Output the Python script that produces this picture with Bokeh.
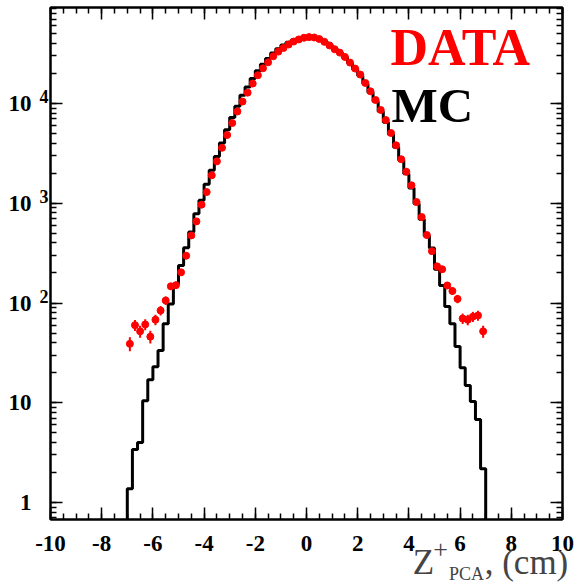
import numpy as np
from bokeh.plotting import figure
from bokeh.models import (Range1d, LinearAxis, LogAxis, SingleIntervalTicker,
                          LogTicker, FixedTicker, Label, CustomJSTickFormatter)
from bokeh.embed import file_html
from bokeh.resources import INLINE

# ---------------- data ----------------
bin_lo, bin_hi, n_bins = -7.0, 7.0, 70

data_counts = [
    39, 60, 52, 61, 46, 68, 84, 106, 147, 151,
    203, 298, 476, 658, 968, 1295, 1905, 2630, 3600, 4830,
    6370, 8320, 10450, 12850, 15840, 19190, 22540, 25880, 29720, 33130,
    36050, 38980, 41800, 43900, 45600,
    46300, 45900, 44300, 41500, 38200, 34990, 32370, 29290, 25700, 22390,
    19500, 16060, 13250, 10830, 8610, 6820, 5060, 3810, 2760, 2070,
    1513, 1028, 728, 480, 331, 233, 218, 150, 132, 110,
    70, 68, 73, 75, 52,
]

mc_counts = [
    1.37, 3.4, 4.0, 10.5, 17, 23, 33.5, 62, 98, 155,
    238, 359, 514, 787, 1071, 1549, 2140, 2950, 4020, 5470,
    7220, 9380, 12080, 14650, 17780, 21300, 24800, 28300, 32000, 35300,
    38500, 41000, 43200, 44900, 46000,
    46400, 46000, 44500, 42000, 38800, 35300, 32200, 29000, 25500, 22000,
    19000, 15800, 12900, 10500, 8300, 6500, 4900, 3650, 2700, 1980,
    1420, 990, 690, 470, 355, 218, 150, 92, 62, 36.7,
    22.4, 14.9, 10.3, 6.8, 2.18,
]

x_major_ticks = [-10, -8, -6, -4, -2, 0, 2, 4, 6, 8, 10]
y_major_ticks = [1, 10, 100, 1000, 10000]
y_tick_base = ["1", "10", "10", "10", "10"]
y_tick_exp = ["", "", "2", "3", "4"]

X0, X1 = -10, 10
Y0, Y1 = 0.6756, 91700

FW = 512                   # frame width in px
EXP_RAISE = 10 ** 0.07     # exponent labels sit ~7px above their tick

edges = np.linspace(bin_lo, bin_hi, n_bins + 1)
centers = 0.5 * (edges[:-1] + edges[1:])
data = np.array(data_counts, dtype=float)
err = np.sqrt(data)

# MC histogram outline
hx, hy = [edges[0]], [Y0]
for i, v in enumerate(mc_counts):
    hx += [edges[i], edges[i + 1]]
    hy += [v, v]
hx.append(edges[-1]); hy.append(Y0)

SERIF = "Liberation Serif"

p = figure(width=577, height=586, x_range=Range1d(X0, X1), y_range=Range1d(Y0, Y1),
           y_axis_type="log", output_backend="svg", toolbar_location=None,
           min_border_left=50, min_border_right=15, min_border_top=7, min_border_bottom=67)
p.grid.visible = False
p.outline_line_color = "black"
p.outline_line_width = 2
p.background_fill_color = "white"
p.border_fill_color = "white"

p.line(hx, hy, line_width=3, line_color="black")
p.segment(centers, data - err, centers, data + err, line_width=2, line_color="red")
p.scatter(centers, data, size=7, fill_color="red", line_color="red")


def style(ax, size="23px"):
    ax.axis_line_width = 2
    ax.axis_line_color = "black"
    ax.major_tick_in = 12
    ax.major_tick_out = 0
    ax.minor_tick_in = 6
    ax.minor_tick_out = 0
    ax.major_tick_line_width = 1.5
    ax.minor_tick_line_width = 1.5
    ax.major_tick_line_color = "black"
    ax.minor_tick_line_color = "black"
    ax.major_label_text_font = SERIF
    ax.major_label_text_font_style = "bold"
    ax.major_label_text_font_size = size
    ax.major_label_text_color = "black"


def bare(ax):
    ax.axis_line_color = None
    ax.major_tick_line_color = None
    ax.minor_tick_line_color = None
    ax.major_tick_out = 0
    ax.minor_tick_out = 0
    ax.major_tick_in = 0
    ax.minor_tick_in = 0


def no_labels(ax):
    ax.formatter = CustomJSTickFormatter(code="return ''")
    ax.major_label_standoff = 0


def px_to_x(px):
    return X0 + px / FW * (X1 - X0)


# bottom axis with numbers
xb = p.xaxis[0]
xb.ticker = SingleIntervalTicker(interval=2, num_minor_ticks=4)
style(xb)
xb.major_label_standoff = 16
xb.major_label_overrides = {t: str(t) for t in x_major_ticks}

# left: tick marks on the frame (no labels)
ytk = p.yaxis[0]
ytk.ticker = LogTicker(num_minor_ticks=10)
style(ytk)
no_labels(ytk)

# left: exponents, slightly raised
exp_ticks = [t * EXP_RAISE for t, e in zip(y_major_ticks, y_tick_exp) if e]
exp_text = [e for e in y_tick_exp if e]
yexp = LogAxis(ticker=FixedTicker(ticks=exp_ticks, minor_ticks=[]))
style(yexp, "18px")
bare(yexp)
yexp.major_label_standoff = 2
yexp.major_label_overrides = dict(zip(exp_ticks, exp_text))
p.add_layout(yexp, "left")

# left: the "10" / "1" part of the labels
yl = LogAxis(ticker=FixedTicker(ticks=y_major_ticks, minor_ticks=[]))
style(yl, "23px")
bare(yl)
yl.major_label_standoff = 5
yl.major_label_overrides = {t: s for t, s in zip(y_major_ticks, y_tick_base)}
p.add_layout(yl, "left")

# mirrored axes without labels
xt = LinearAxis(ticker=SingleIntervalTicker(interval=2, num_minor_ticks=4))
style(xt)
no_labels(xt)
p.add_layout(xt, "above")

yr = LogAxis(ticker=LogTicker(num_minor_ticks=10))
style(yr)
no_labels(yr)
p.add_layout(yr, "right")

# x-axis title  Z^+_PCA, (cm)  built from stacked label-only axes
# (texts, centre px from frame left, font size, standoff)
title_parts = [
    (["+"], [390], "26px", -13),
    (["Z", ", (cm)"], [373, 476], "35px", -18),
    (["PCA"], [416], "18px", -21),
]
for texts, pxs, fs, so in title_parts:
    ts = [px_to_x(px) for px in pxs]
    ax = LinearAxis(ticker=FixedTicker(ticks=ts, minor_ticks=[]))
    bare(ax)
    ax.major_label_overrides = dict(zip(ts, texts))
    ax.major_label_text_font = SERIF
    ax.major_label_text_font_size = fs
    ax.major_label_standoff = so
    p.add_layout(ax, "below")

# legend-like texts
p.add_layout(Label(x=340, y=472, x_units="screen", y_units="screen", text="DATA",
                   text_font=SERIF, text_font_style="bold", text_font_size="52px",
                   text_color="red", text_baseline="alphabetic"))
p.add_layout(Label(x=341, y=414, x_units="screen", y_units="screen", text="MC",
                   text_font=SERIF, text_font_style="bold", text_font_size="49px",
                   text_color="black", text_baseline="alphabetic"))

open("out.html", "w").write(file_html(p, INLINE))
